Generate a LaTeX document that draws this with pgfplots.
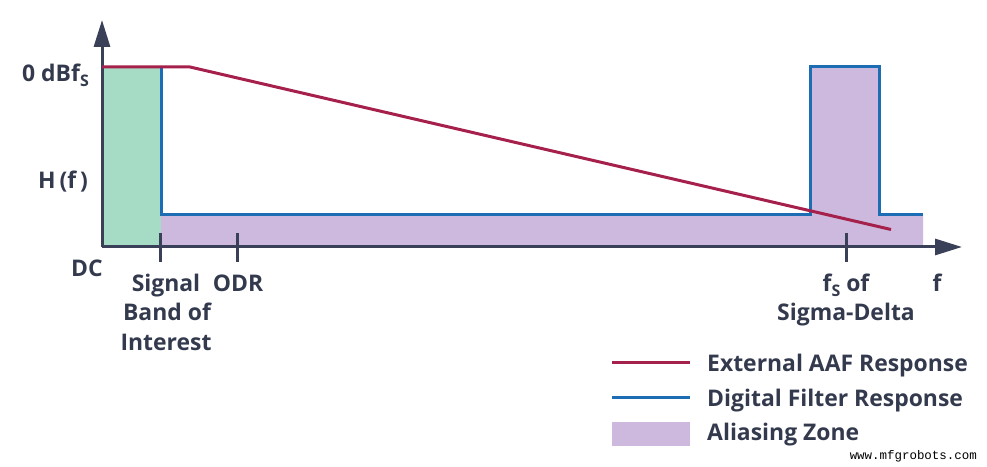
\documentclass[border=0pt]{standalone}
\usepackage{pgfplots}
\pgfplotsset{compat=1.18}
\usepackage{fontspec}
\setmainfont{Open Sans}
\newfontfamily\wm{Liberation Mono}
\usetikzlibrary{arrows.meta}
\definecolor{txt}{HTML}{343A4E}
\definecolor{axc}{HTML}{3A4058}
\definecolor{aaf}{HTML}{A5204B}
\definecolor{dig}{HTML}{1C6DB3}
\definecolor{grn}{HTML}{A6DBC6}
\definecolor{pur}{HTML}{CDB9DD}
\begin{document}
\begin{tikzpicture}
\begin{axis}[width=987bp,height=467bp,scale only axis,
  xmin=0,xmax=987,ymin=0,ymax=467,hide axis,clip=false]
\path (axis cs:0,0) rectangle (axis cs:987,467);
% signal band (green)
\addplot[fill=grn,draw=none] coordinates {(102,220)(161,220)(161,400)(102,400)} -- cycle;
% aliasing zone (purple)
\addplot[fill=pur,draw=none] coordinates {(161,220)(161,252.5)(810,252.5)(810,400)(879,400)(879,252.5)(923,252.5)(923,220)} -- cycle;
% axes
\draw[axc,line width=3bp,-{Triangle[length=27bp,width=16bp]}] (axis cs:102,220) -- (axis cs:962,220);
\draw[axc,line width=3bp,-{Triangle[length=27bp,width=16bp]}] (axis cs:102,220) -- (axis cs:102,447);
% ticks
\addplot[axc,line width=3bp] coordinates {(160.5,234)(160.5,205)};
\addplot[axc,line width=3bp] coordinates {(237,234)(237,205)};
\addplot[axc,line width=3bp] coordinates {(846,234)(846,205)};
% digital filter
\addplot[dig,line width=3bp,line join=miter] coordinates {(161,400)(161,252.5)(810,252.5)(810,400)(879,400)(879,252.5)(923,252.5)};
% external AAF
\addplot[aaf,line width=3bp,line join=miter] coordinates {(102,400)(190,400)(891,237.5)};
% labels
\begin{scope}[every node/.style={text=txt,font=\bfseries\fontsize{23}{30}\selectfont,inner sep=0pt}]
\node[anchor=base east] at (axis cs:89,385) {0 dBf\raisebox{-0.35ex}{\fontsize{16}{16}\selectfont S}};
\node[anchor=base east] at (axis cs:88,278) {H\,(f\,)};
\node[anchor=base] at (axis cs:87,190) {DC};
\node[anchor=base] at (axis cs:166,175) {Signal};
\node[anchor=base] at (axis cs:167,146) {Band of};
\node[anchor=base] at (axis cs:166,116) {Interest};
\node[anchor=base] at (axis cs:238,175) {ODR};
\node[anchor=base] at (axis cs:846,175) {f\raisebox{-0.35ex}{\fontsize{16}{16}\selectfont S} of};
\node[anchor=base] at (axis cs:846,146) {Sigma-Delta};
\node[anchor=base] at (axis cs:937,175) {f};
\node[anchor=base west] at (axis cs:707,95) {External AAF Response};
\node[anchor=base west] at (axis cs:707,60) {Digital Filter Response};
\node[anchor=base west] at (axis cs:707,27) {Aliasing Zone};
\end{scope}
% legend
\addplot[aaf,line width=3bp] coordinates {(612,104)(690,104)};
\addplot[dig,line width=3bp] coordinates {(612,69)(690,69)};
\addplot[fill=pur,draw=none] coordinates {(612,21)(690,21)(690,45)(612,45)} -- cycle;
\node[anchor=base east,inner sep=0pt,font=\wm\fontsize{12.5}{14}\selectfont] at (axis cs:977,8) {www.mfgrobots.com};
\end{axis}
\end{tikzpicture}
\end{document}
